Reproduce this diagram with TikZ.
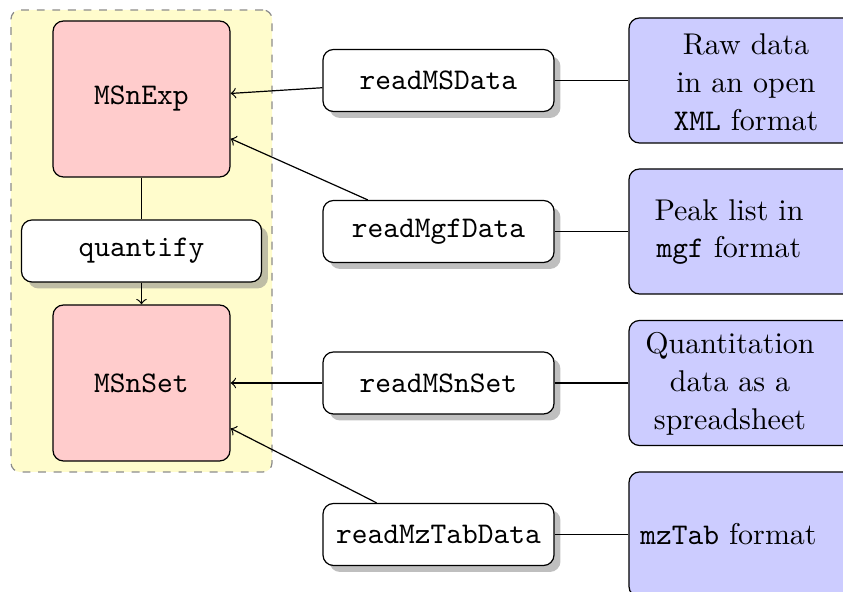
\documentclass[tikz,border=0pt]{standalone}
\usetikzlibrary{shadows}
\begin{document}
\begin{tikzpicture}[x=0.33333pt, y=-0.33333pt,
  groupbox/.style={draw=black!45, fill=yellow!20, rounded corners=3pt,
    dash pattern=on 2.6pt off 2.6pt, minimum width=87pt, minimum height=154pt, inner sep=0pt},
  classbox/.style={draw, fill=red!20, rounded corners=3.5pt,
    minimum width=59pt, minimum height=52pt, inner sep=0pt, font=\ttfamily},
  funbox/.style={draw, fill=white, rounded corners=3.5pt, drop shadow,
    minimum height=20.67pt, inner sep=0pt, font=\ttfamily},
  filebox/.style={draw, fill=blue!20, rounded corners=3.5pt,
    minimum width=90.33pt, minimum height=41.67pt, inner sep=0pt},
  filetext/.style={align=center, inner sep=0pt, font=\fontsize{10}{12.6}\selectfont},
  conn/.style={draw}
]
\useasboundingbox (0,0) rectangle (843,592);
\clip (0,0) rectangle (843,592);

\node[groupbox] (grp) at (141.5,241) {};

\node[classbox] (MSnExp) at (141.5,99) {MSnExp};
\node[funbox, minimum width=80pt] (quantify) at (141.5,251) {quantify};
\node[classbox] (MSnSet) at (141.5,383) {MSnSet};

\node[funbox, minimum width=77pt] (readMSData) at (438.5,80.5) {readMSData};
\node[funbox, minimum width=77pt] (readMgfData) at (438.5,231.5) {readMgfData};
\node[funbox, minimum width=77pt] (readMSnSet) at (438.5,383) {readMSnSet};
\node[funbox, minimum width=77pt] (readMzTabData) at (438.5,534.5) {readMzTabData};

\node[filebox] (raw) at (764.5,80.5) {};
\node[filebox] (mgf) at (764.5,231.5) {};
\node[filebox] (quant) at (764.5,383) {};
\node[filebox] (mztab) at (764.5,534.5) {};

\node[filetext] (rawtxt) at (746,82) {Raw data\\in an open\\\texttt{XML} format};
\node[filetext] (mgftxt) at (729,232) {Peak list in\\\texttt{mgf} format};
\node[filetext] (quanttxt) at (730,384) {Quantitation\\data as a\\spreadsheet};
\node[filetext] (mztabtxt) at (728.5,534.5) {\texttt{mzTab} format};

\draw[conn] (MSnExp) -- (quantify);
\draw[conn, ->] (quantify) -- (MSnSet);
\draw[conn, ->] (readMSData) -- (MSnExp);
\draw[conn, ->] (readMgfData) -- (MSnExp);
\draw[conn, ->] (readMSnSet) -- (MSnSet);
\draw[conn, ->] (readMzTabData) -- (MSnSet);
\draw[conn] (raw) -- (readMSData);
\draw[conn] (mgf) -- (readMgfData);
\draw[conn] (quant) -- (readMSnSet);
\draw[conn] (mztab) -- (readMzTabData);
\end{tikzpicture}
\end{document}
